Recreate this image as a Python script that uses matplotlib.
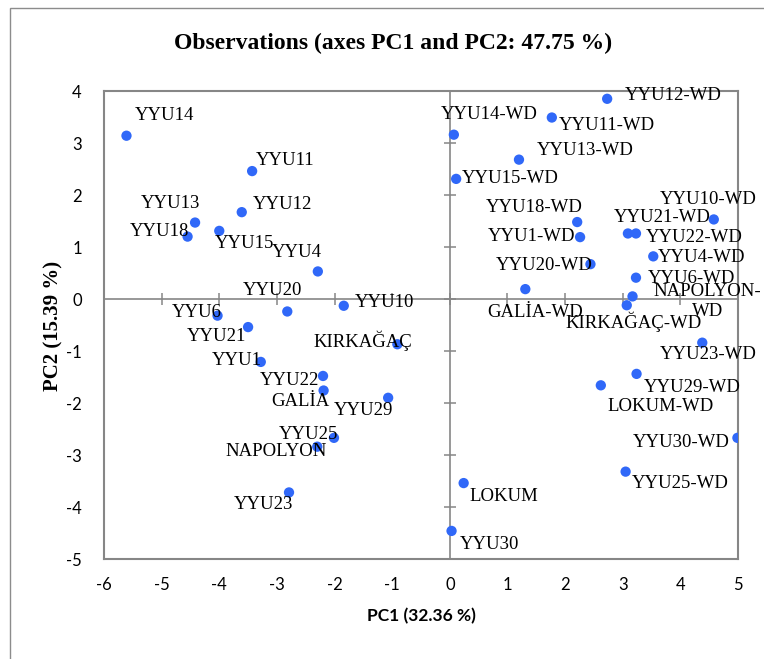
import matplotlib
matplotlib.use("Agg")
import matplotlib.pyplot as plt
from matplotlib.patches import Rectangle

plt.rcParams["axes.unicode_minus"] = False

# ---- data ----
names = ["YYU14", "YYU11", "YYU12", "YYU13", "YYU18", "YYU15", "YYU4", "YYU20",
         "YYU10", "YYU6", "YYU21", "KIRKAĞAÇ", "YYU1", "YYU22", "GALİA", "YYU29",
         "YYU25", "NAPOLYON", "YYU23", "LOKUM", "YYU30",
         "YYU12-WD", "YYU11-WD", "YYU14-WD", "YYU13-WD", "YYU15-WD", "YYU18-WD",
         "YYU1-WD", "YYU20-WD", "GALİA-WD", "YYU21-WD", "YYU22-WD", "YYU10-WD",
         "YYU4-WD", "YYU6-WD", "NAPOLYON-\nWD", "KIRKAĞAÇ-WD", "YYU23-WD",
         "YYU29-WD", "LOKUM-WD", "YYU30-WD", "YYU25-WD"]
pc1 = [-5.61, -3.43, -3.61, -4.42, -4.55, -4.00, -2.29, -2.82,
       -1.84, -4.03, -3.50, -0.91, -3.28, -2.20, -2.19, -1.07,
       -2.01, -2.30, -2.79, 0.24, 0.03,
       2.73, 1.77, 0.07, 1.20, 0.11, 2.21,
       2.26, 2.44, 1.31, 3.09, 3.23, 4.58,
       3.53, 3.23, 3.17, 3.07, 4.38,
       3.24, 2.62, 4.99, 3.05]
pc2 = [3.14, 2.46, 1.67, 1.47, 1.20, 1.31, 0.53, -0.24,
       -0.13, -0.32, -0.54, -0.87, -1.21, -1.48, -1.76, -1.90,
       -2.67, -2.84, -3.72, -3.54, -4.46,
       3.85, 3.49, 3.16, 2.68, 2.31, 1.48,
       1.19, 0.67, 0.19, 1.26, 1.26, 1.53,
       0.82, 0.41, 0.05, -0.12, -0.84,
       -1.44, -1.66, -2.67, -3.32]
x_ticks = [-6, -5, -4, -3, -2, -1, 0, 1, 2, 3, 4, 5]
y_ticks = [-5, -4, -3, -2, -1, 0, 1, 2, 3, 4]
title = "Observations (axes PC1 and PC2: 47.75 %)"
xlabel = "PC1 (32.36 %)"
ylabel = "PC2 (15.39 %)"

# label placement (pixel offsets from the point: right, down)
label_offsets = [(38, -20), (33, -11), (41, -8), (-25, -19), (-28, -5), (25, 13), (-21, -19), (-15, -21),
                 (41, -3), (-21, -3), (-32, 9), (-35, -3), (-24, -1), (-34, 5), (-23, 11), (-25, 13),
                 (-25, -3), (-41, 5), (-26, 12), (40, 13), (38, 14),
                 (66, -3), (55, 8), (35, -20), (66, -9), (54, 0), (-43, -15),
                 (-49, -1), (-46, 1), (10, 23), (34, -16), (58, 4), (-6, -20),
                 (48, 1), (56, 1), (75, 5), (7, 17), (6, 12),
                 (56, 14), (60, 21), (-56, 5), (55, 12)]

W, H = 764, 659
fig = plt.figure(figsize=(W / 100, H / 100), dpi=100)
fig.patch.set_facecolor("white")

# outer chart frame
fig.patches.append(Rectangle((10 / W, -0.05), 1.2, 1 - 8 / H + 0.05,
                             transform=fig.transFigure, fill=False,
                             edgecolor="#8c8c8c", linewidth=1.0))

ax = fig.add_axes([104 / W, 1 - 559 / H, (738 - 104) / W, (559 - 91) / H])
ax.set_xlim(-6, 5)
ax.set_ylim(-5, 4)

grey = "#868686"
for s in ax.spines.values():
    s.set_color(grey)
    s.set_linewidth(1.5)

ax.axhline(0, color=grey, lw=1.2, zorder=1)
ax.axvline(0, color=grey, lw=1.2, zorder=1)
ax.plot(x_ticks, [0] * len(x_ticks), ls="none", marker="|", ms=9, mew=1.1, color=grey, zorder=1)
ax.plot([0] * len(y_ticks), y_ticks, ls="none", marker="_", ms=9, mew=1.1, color=grey, zorder=1)

ax.set_xticks(x_ticks)
ax.set_yticks(y_ticks)
ax.tick_params(length=0, labelsize=12)
for lab in ax.get_xticklabels() + ax.get_yticklabels():
    lab.set_fontfamily("Lato")
ax.tick_params(axis="y", pad=16)
ax.tick_params(axis="x", pad=13)

ax.scatter(pc1, pc2, s=55, color="#3068F8", edgecolors="none", zorder=3)

for n, x, y, (dx, dy) in zip(names, pc1, pc2, label_offsets):
    ax.annotate(n, (x, y), xytext=(dx, -dy), textcoords="offset pixels",
                ha="center", va="center", fontsize=13.5,
                family="Liberation Serif", color="black", zorder=4,
                linespacing=1.25, annotation_clip=False)

fig.text(393 / W, 1 - 43 / H, title, ha="center", va="center",
         fontsize=17, fontweight="bold", family="Liberation Serif")
fig.text(421 / W, 1 - 616 / H, xlabel, ha="center", va="center",
         fontsize=12.5, fontweight="bold", family="Lato")
fig.text(53 / W, 1 - 326 / H, ylabel, ha="center", va="center", rotation=90,
         fontsize=15, fontweight="bold", family="Liberation Serif")

fig.savefig("out.png", dpi=100)
